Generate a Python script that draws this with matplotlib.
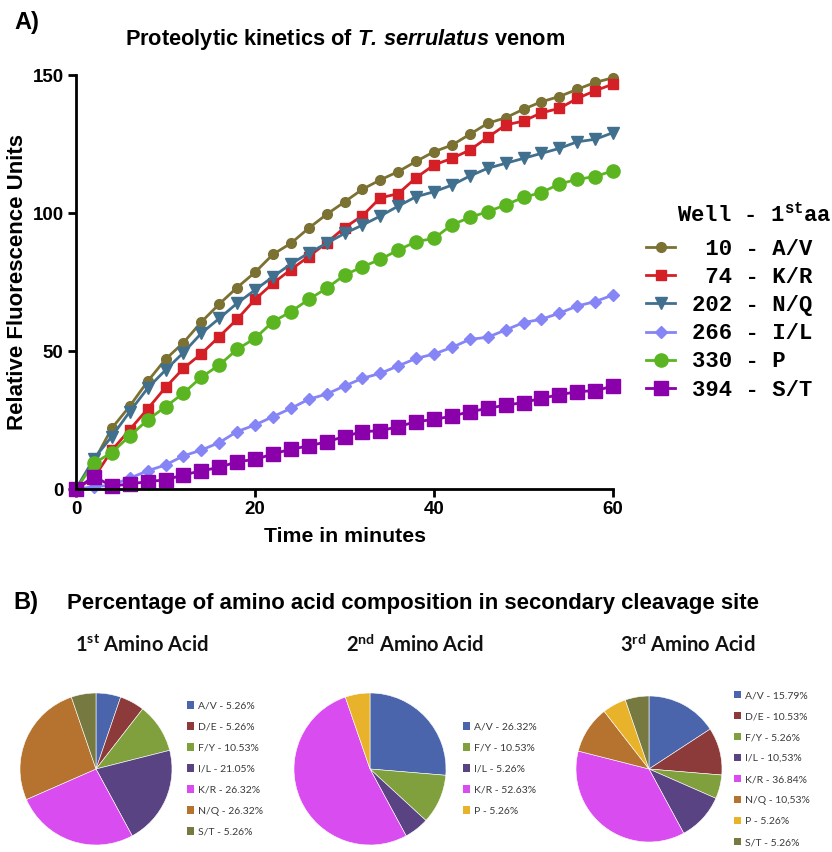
import numpy as np
import matplotlib
matplotlib.use("Agg")
import matplotlib.pyplot as plt
from matplotlib.patches import Patch

plt.rcParams['font.family'] = 'Liberation Sans'
plt.rcParams['mathtext.fontset'] = 'custom'
plt.rcParams['mathtext.rm'] = 'Liberation Sans'
plt.rcParams['mathtext.it'] = 'Liberation Sans:italic'
plt.rcParams['mathtext.bf'] = 'Liberation Sans:bold'
plt.rcParams['mathtext.bfit'] = 'Liberation Sans:italic:bold'

# ---- panel A data: fluorescence every 2 minutes ----
time_min = np.arange(0, 61, 2)
well_labels = [" 10 - A/V", " 74 - K/R", "202 - N/Q", "266 - I/L", "330 - P", "394 - S/T"]
rfu_av = [0, 10, 22, 30, 39, 47, 53, 60.5, 67, 73, 78.5, 85, 89, 94.5, 99.5, 104,
          108.6, 112, 115, 118.7, 122.2, 124.6, 128.5, 132.5, 134.5, 137.6, 140.3,
          142.2, 144.8, 147.3, 149]
rfu_kr = [0, 4, 14, 21.5, 29, 36.8, 43.7, 49, 55.2, 61.5, 68.7, 74.5, 79.5, 84.2,
          89.2, 94.7, 99, 105.5, 107, 112.8, 117.4, 119.8, 122.8, 127.4, 131.9,
          133.3, 136.3, 137.9, 141.5, 144.3, 146.7]
rfu_nq = [0, 11, 19, 28, 36.5, 43.1, 49.4, 56.4, 61.8, 67.3, 72.1, 76.9, 81.5, 85.5,
          89, 92.6, 95.6, 98.9, 102.5, 105.9, 107.7, 110.1, 113.4, 116.2, 118,
          119.8, 121.6, 123.4, 125.8, 126.7, 129.1]
rfu_il = [0, 0.8, 1.4, 3.9, 6.6, 8.7, 12, 14.1, 16.8, 20.8, 23.2, 26.2, 29.2, 32.5,
          34.4, 37.3, 40.1, 41.9, 44.6, 47.3, 48.9, 51.3, 54.2, 55, 57.6, 60.3,
          61.5, 63.7, 66.3, 67.9, 70.3]
rfu_p = [0, 9.3, 13.2, 19.2, 25, 29.8, 34.7, 40.5, 44.9, 50.6, 54.6, 60.6, 64.2,
         68.7, 72.7, 77.5, 80.5, 83.2, 86.6, 89.6, 90.8, 95.7, 98.4, 100.5, 102.9,
         105.7, 107.4, 110.5, 112.2, 113.2, 115.3]
rfu_st = [0, 4.5, 1.1, 1.8, 2.7, 3.3, 5.1, 6.6, 7.8, 9.9, 10.7, 12.7, 14.4, 15.6,
          17.1, 19, 20.8, 21.1, 22.6, 24.4, 25.2, 26.4, 28, 29.2, 30.4, 31.3, 32.9,
          34.1, 35.3, 35.6, 37.3]

# ---- panel B data: amino acid composition (%) ----
aa1_labels = ["A/V - 5.26%", "D/E - 5.26%", "F/Y - 10.53%", "I/L - 21.05%",
              "K/R - 26.32%", "N/Q - 26.32%", "S/T - 5.26%"]
aa1_keys = ["A/V", "D/E", "F/Y", "I/L", "K/R", "N/Q", "S/T"]
aa1_values = [5.26, 5.26, 10.53, 21.05, 26.32, 26.32, 5.26]

aa2_labels = ["A/V - 26.32%", "F/Y - 10.53%", "I/L - 5.26%", "K/R - 52.63%", "P - 5.26%"]
aa2_keys = ["A/V", "F/Y", "I/L", "K/R", "P"]
aa2_values = [26.32, 10.53, 5.26, 52.63, 5.26]

aa3_labels = ["A/V - 15.79%", "D/E - 10.53%", "F/Y - 5.26%", "I/L - 10,53%",
              "K/R - 36.84%", "N/Q - 10,53%", "P - 5.26%", "S/T - 5.26%"]
aa3_keys = ["A/V", "D/E", "F/Y", "I/L", "K/R", "N/Q", "P", "S/T"]
aa3_values = [15.79, 10.53, 5.26, 10.53, 36.84, 10.53, 5.26, 5.26]

pie_colors = {"A/V": "#4a65ab", "D/E": "#8c3a3a", "F/Y": "#80a03e", "I/L": "#5a4382",
              "K/R": "#d94cf0", "N/Q": "#b5732f", "P": "#e8b22a", "S/T": "#777a40"}

W, H = 832, 852
fig = plt.figure(figsize=(W / 100, H / 100), dpi=100)


def fx(px):
    return px / W


def fy(py):
    return 1 - py / H


# ---------------- panel A ----------------
ax = fig.add_axes([fx(76), fy(489), (613 - 76) / W, (489 - 75) / H])
series = [rfu_av, rfu_kr, rfu_nq, rfu_il, rfu_p, rfu_st]
colors = ["#7b7133", "#d41f26", "#41708f", "#8585f5", "#5ab520", "#8a00aa"]
markers = ["o", "s", "v", "D", "o", "s"]
msizes = [7, 7, 8, 6, 9.5, 9.5]
handles = []
for vals, c, m, s, lab in zip(series, colors, markers, msizes, well_labels):
    h, = ax.plot(time_min, vals, color=c, marker=m, ms=s, lw=2, clip_on=False, label=lab)
    handles.append(h)

ax.set_xlim(0, 60)
ax.set_ylim(0, 150)
ax.set_xticks([0, 20, 40, 60])
ax.set_yticks([0, 50, 100, 150])
for side in ["top", "right"]:
    ax.spines[side].set_visible(False)
for side in ["left", "bottom"]:
    ax.spines[side].set_linewidth(2)
ax.tick_params(direction="out", length=6, width=2, labelsize=13.5, pad=3)
for lab in ax.get_xticklabels() + ax.get_yticklabels():
    lab.set_fontweight("bold")

fig.text(fx(345), fy(537), "Time in minutes", ha="center", va="center",
         fontsize=15.3, fontweight="bold")
fig.text(fx(18), fy(282), "Relative Fluorescence Units", ha="center", va="center",
         rotation=90, fontsize=16, fontweight="bold")
fig.text(fx(345), fy(40), r"Proteolytic kinetics of $\bfit{T.\,serrulatus}$ venom",
         ha="center", va="center", fontsize=15.7, fontweight="bold")
fig.text(fx(14), fy(23), "A)", ha="left", va="center", fontsize=17, fontweight="bold")

mono = {"family": "Liberation Mono", "weight": "bold", "size": 16}
fig.text(fx(677), fy(215), r"Well - 1$\mathregular{^{st}}$aa", ha="left", va="center",
         family="Liberation Mono", weight="bold", size=16)
ax.legend(handles=handles, loc="upper left", bbox_to_anchor=(fx(646), fy(239)),
          bbox_transform=fig.transFigure, frameon=False, prop=mono,
          handlelength=1.32, labelspacing=0.32, borderpad=0, borderaxespad=0,
          handletextpad=0.73)

# ---------------- panel B ----------------
fig.text(fx(13), fy(603), "B)", ha="left", va="center", fontsize=17, fontweight="bold")
fig.text(fx(67), fy(603), "Percentage of amino acid composition in secondary cleavage site",
         ha="left", va="center", fontsize=15.9, fontweight="bold")

pies = [
    (aa1_keys, aa1_values, aa1_labels, 96, 769, 76, 142, r"1$\mathregular{^{st}}$ Amino Acid", 187),
    (aa2_keys, aa2_values, aa2_labels, 370, 769, 76, 415, r"2$\mathregular{^{nd}}$ Amino Acid", 463),
    (aa3_keys, aa3_values, aa3_labels, 649, 769, 73, 688, r"3$\mathregular{^{rd}}$ Amino Acid", 734),
]
for keys, vals, labels, cx, cy, r, tx, title, lx in pies:
    pax = fig.add_axes([fx(cx - r), fy(cy + r), 2 * r / W, 2 * r / H])
    cols = [pie_colors[k] for k in keys]
    pax.pie(vals, colors=cols, startangle=90, counterclock=False,
            wedgeprops={"edgecolor": "white", "linewidth": 0.4})
    pax.set_xlim(-1, 1)
    pax.set_ylim(-1, 1)
    fig.text(fx(tx), fy(645), title, ha="center", va="center", fontsize=14.5,
             fontweight="bold", family="Lato", color="#111111")
    patches = [Patch(facecolor=c) for c in cols]
    leg = fig.legend(patches, labels, loc="center left", bbox_to_anchor=(fx(lx), fy(769)),
                     frameon=False, handlelength=0.7, handleheight=0.7,
                     labelspacing=1.12, borderpad=0, borderaxespad=0, handletextpad=0.4,
                     prop={"family": "Lato", "size": 7.5})
    for t in leg.get_texts():
        t.set_color("#3a3a3a")

fig.savefig("out.png", dpi=100)
